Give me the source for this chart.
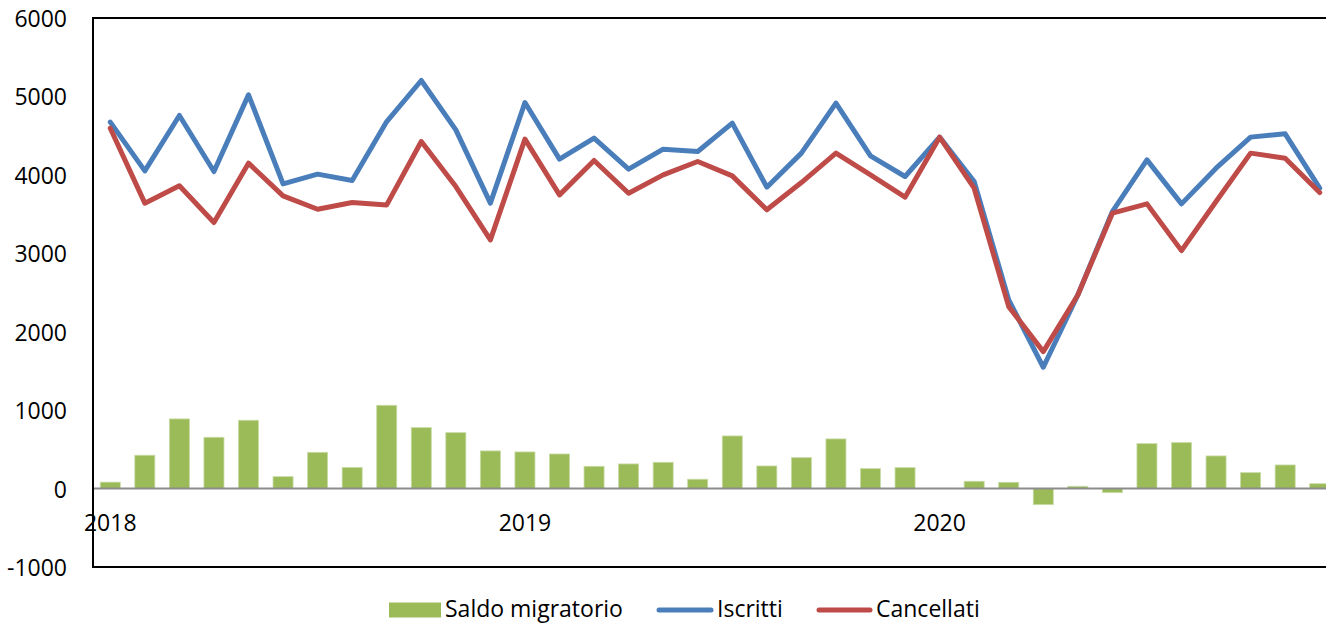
<!DOCTYPE html>
<html>
<head>
<meta charset="utf-8">
<script src="https://cdn.jsdelivr.net/npm/d3@7"></script>
<style>
  body { margin: 0; background: #fff; }
  svg { display: block; font-family: 'Open Sans', 'Liberation Sans', sans-serif; }
</style>
</head>
<body>
<div id="chart"></div>
<script>
// mesi gen 2018 - dic 2020
const months = d3.range(36)
const yearLabels = ['2018', '2019', '2020']

const saldo = [82, 425, 888, 654, 871, 152, 462, 270, 1062, 777, 713, 480,
  467, 441, 284, 314, 335, 119, 671, 288, 394, 633, 254, 267,
  3, 93, 80, -205, 29, -52, 573, 586, 416, 203, 301, 62]

const iscritti = [4672, 4051, 4757, 4042, 5020, 3885, 4009, 3927, 4680, 5203, 4574, 3639,
  4922, 4200, 4468, 4073, 4328, 4298, 4660, 3843, 4277, 4915, 4242, 3979,
  4481, 3915, 2406, 1547, 2469, 3532, 4191, 3630, 4085, 4481, 4523, 3830]

const cancellati = [4595, 3639, 3860, 3392, 4149, 3732, 3562, 3647, 3617, 4425, 3851, 3171,
  4455, 3745, 4183, 3766, 4000, 4170, 3987, 3554, 3902, 4277, 4000, 3716,
  4481, 3830, 2320, 1746, 2469, 3511, 3630, 3034, 3660, 4277, 4213, 3774]

const yTicks = [-1000, 0, 1000, 2000, 3000, 4000, 5000, 6000]

const width = 1326
const height = 625
const margin = { top: 18, left: 93, bottom: 58 }
const plotRight = 1337
const fontSize = 23

const svg = d3
  .select('#chart')
  .append('svg')
  .attr('width', width)
  .attr('height', height)

const x = d3
  .scaleBand()
  .domain(months)
  .range([margin.left, plotRight])
  .paddingInner(0.42)
  .paddingOuter(0.21)

const y = d3
  .scaleLinear()
  .domain([-1000, 6000])
  .range([height - margin.bottom, margin.top])

const cx = i => x(i) + x.bandwidth() / 2

// bars
svg
  .selectAll('.bar')
  .data(saldo)
  .enter()
  .append('rect')
  .attr('class', 'bar')
  .attr('x', (d, i) => x(i))
  .attr('width', x.bandwidth())
  .attr('y', d => y(Math.max(0, d)))
  .attr('height', d => Math.abs(y(d) - y(0)))
  .attr('fill', '#9bbb59')
  .attr('stroke', '#c9dba6')
  .attr('stroke-width', 0.8)

// zero line
svg
  .append('line')
  .attr('x1', margin.left)
  .attr('x2', plotRight)
  .attr('y1', y(0))
  .attr('y2', y(0))
  .attr('stroke', '#8c8c8c')
  .attr('stroke-width', 2)

// frame
svg
  .append('path')
  .attr('d', `M${plotRight},${y(6000)}H${margin.left}V${y(-1000)}H${plotRight}`)
  .attr('fill', 'none')
  .attr('stroke', '#000')
  .attr('stroke-width', 2)

const line = d3
  .line()
  .x((d, i) => cx(i))
  .y(d => y(d))

svg
  .append('path')
  .datum(iscritti)
  .attr('d', line)
  .attr('fill', 'none')
  .attr('stroke', '#4a7ebb')
  .attr('stroke-width', 5)
  .attr('stroke-linejoin', 'round')
  .attr('stroke-linecap', 'round')

svg
  .append('path')
  .datum(cancellati)
  .attr('d', line)
  .attr('fill', 'none')
  .attr('stroke', '#be4b48')
  .attr('stroke-width', 5)
  .attr('stroke-linejoin', 'round')
  .attr('stroke-linecap', 'round')

// y labels
svg
  .selectAll('.ylab')
  .data(yTicks)
  .enter()
  .append('text')
  .attr('class', 'ylab')
  .attr('x', 67)
  .attr('y', d => y(d) + 1)
  .attr('dy', '0.35em')
  .attr('text-anchor', 'end')
  .attr('font-size', fontSize)
  .attr('fill', '#000')
  .text(d => d)

// x labels
svg
  .selectAll('.xlab')
  .data(yearLabels)
  .enter()
  .append('text')
  .attr('class', 'xlab')
  .attr('x', (d, i) => cx(i * 12))
  .attr('y', 523)
  .attr('dy', '0.35em')
  .attr('text-anchor', 'middle')
  .attr('font-size', fontSize)
  .attr('fill', '#000')
  .text(d => d)

// legend
const legend = svg.append('g').attr('transform', 'translate(0,609)')
legend.append('rect')
  .attr('x', 389).attr('y', -6.5).attr('width', 52).attr('height', 15)
  .attr('fill', '#9bbb59')
legend.append('text')
  .attr('x', 445).attr('dy', '0.35em').attr('font-size', fontSize).text('Saldo migratorio')
legend.append('line')
  .attr('x1', 659).attr('x2', 711).attr('y1', 1).attr('y2', 1)
  .attr('stroke', '#4a7ebb').attr('stroke-width', 5).attr('stroke-linecap', 'round')
legend.append('text')
  .attr('x', 717).attr('dy', '0.35em').attr('font-size', fontSize).text('Iscritti')
legend.append('line')
  .attr('x1', 819).attr('x2', 870).attr('y1', 1).attr('y2', 1)
  .attr('stroke', '#be4b48').attr('stroke-width', 5).attr('stroke-linecap', 'round')
legend.append('text')
  .attr('x', 876).attr('dy', '0.35em').attr('font-size', fontSize).text('Cancellati')
</script>
</body>
</html>
